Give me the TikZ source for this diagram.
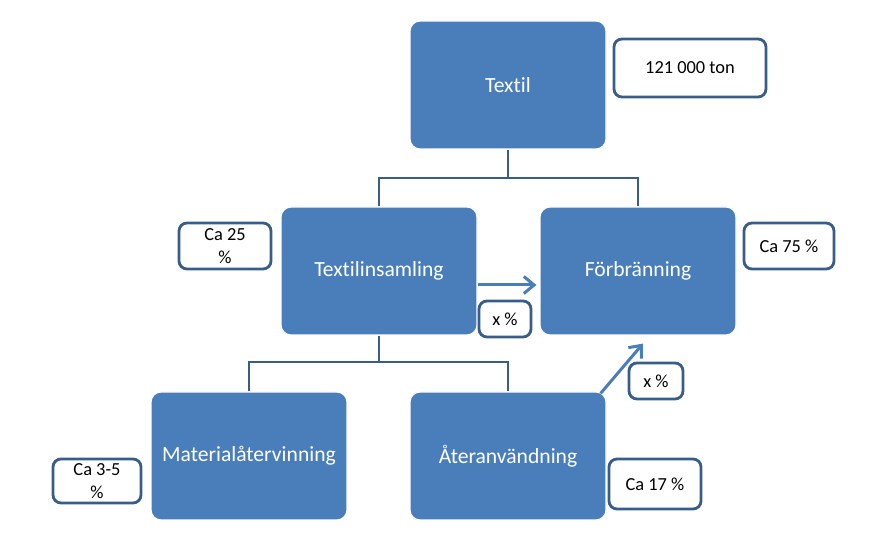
\documentclass[tikz,border=0pt]{standalone}
\usepackage{fontspec}
\setmainfont[Ligatures=NoCommon,RawFeature={-liga}]{Carlito}
\usetikzlibrary{arrows.meta,positioning}
\definecolor{boxblue}{HTML}{4A7EBB}
\definecolor{edgeblue}{HTML}{385D8A}

\begin{document}
\begin{tikzpicture}[
  x=0.5pt, y=-0.5pt,
  font=\fontsize{10.8}{13}\selectfont,
  stage/.style={draw=white, line width=0.6pt, rounded corners=5pt, fill=boxblue, text=white, minimum width=98pt, minimum height=64pt, align=center, inner sep=0pt},
  share/.style={draw=edgeblue, line width=1.4pt, rounded corners=4pt, fill=white, align=center, inner sep=0pt, font=\fontsize{9.2}{11.5}\selectfont},
  branch/.style={draw=edgeblue, line width=1.2pt},
  flow/.style={-{Straight Barb[length=1.8mm, width=3mm]}, draw=boxblue, line width=1.5pt}
]
\useasboundingbox (0,0) rectangle (894,533);

% flows
\node[stage] (textil) at (508,85) {Textil};
\node[stage] (insamling) at (379,271) {Textilinsamling};
\node[stage] (forbranning) at (638,271) {Förbränning};
\node[stage] (material) at (249,456) {Materialåtervinning};
\node[stage] (ateranv) at (508,456) {Återanvändning};

% shares
\node[share, minimum width=76pt, minimum height=29pt] (ton) at (690,68) {121 000 ton};
\node[share, minimum width=46pt, minimum height=23pt] (c25) at (225,246) {Ca 25\\\%};
\node[share, minimum width=45pt, minimum height=23pt] (c75) at (789,246) {Ca 75 \%};
\node[share, minimum width=26pt, minimum height=18pt] (xa) at (505,319) {x \%};
\node[share, minimum width=27pt, minimum height=18pt] (xb) at (656,381) {x \%};
\node[share, minimum width=46pt, minimum height=25pt] (c17) at (655,484) {Ca 17 \%};
\node[share, minimum width=44pt, minimum height=22pt] (c35) at (97,481) {Ca 3-5\\\%};

% tree
\coordinate (split1) at (508,178);
\coordinate (split2) at (379,362);
\draw[branch] (textil) -- (split1);
\draw[branch] (insamling.north) |- (split1) -| (forbranning.north);
\draw[branch] (insamling) -- (split2);
\draw[branch] (material.north) |- (split2) -| (ateranv.north);

\draw[flow] ([yshift=-7pt]insamling.east) -- ([yshift=-7pt,xshift=-1.5pt]forbranning.west);
\draw[flow] ([xshift=-3pt,yshift=-1pt]ateranv.north east) -- ([xshift=2.5pt,yshift=-4pt]forbranning.south);
\end{tikzpicture}
\end{document}
